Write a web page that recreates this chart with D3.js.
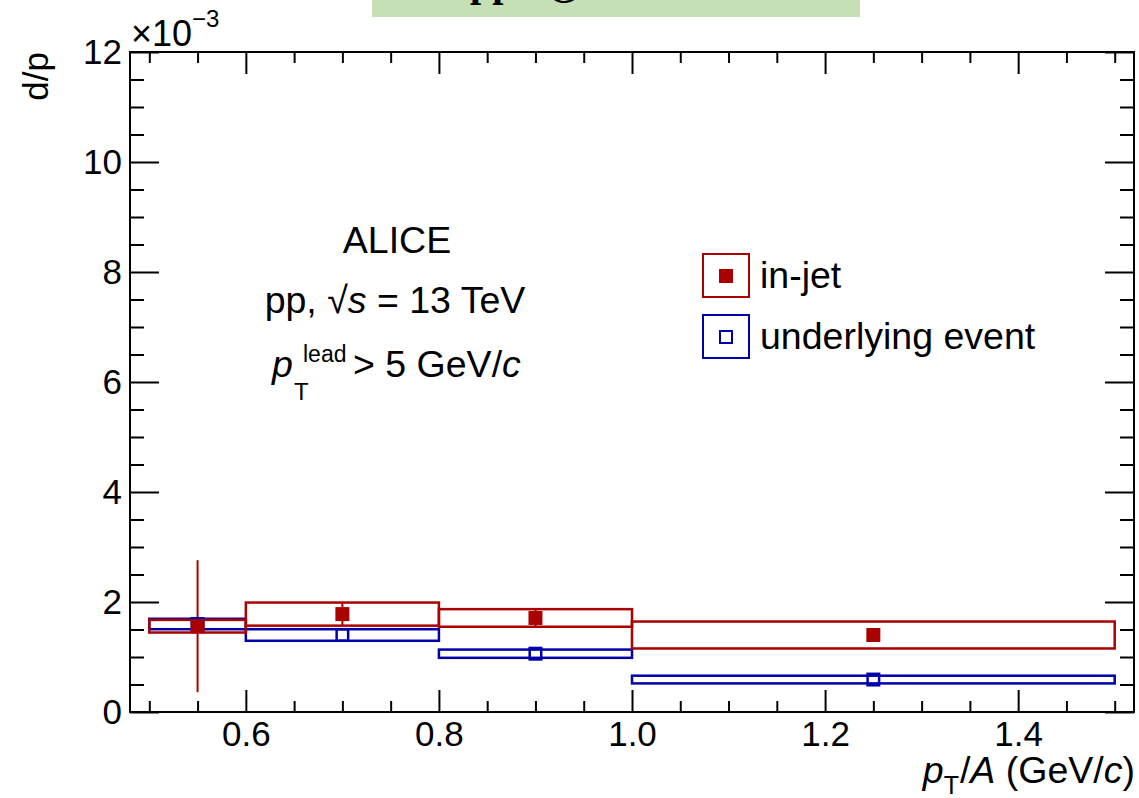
<!DOCTYPE html>
<html>
<head>
<meta charset="utf-8">
<script src="https://cdn.jsdelivr.net/npm/d3@7"></script>
<style>
  body { margin: 0; background: #fff; }
  svg { display: block; font-family: "Liberation Sans", Arial, sans-serif; }
</style>
</head>
<body>
<div id="chart"></div>
<script>
(function () {
    // pT/A bins (GeV/c)
    const binLow = [0.5, 0.6, 0.8, 1.0];
    const binHigh = [0.6, 0.8, 1.0, 1.5];
    const binCenter = [0.55, 0.7, 0.9, 1.25];

    // d/p ratio, in units of 10^-3
    const inJet = [1.56, 1.78, 1.71, 1.40];
    const inJetStat = [1.20, 0.21, 0.15, 0.10];
    const inJetSyst = [0.115, 0.21, 0.16, 0.245];

    const underlying = [1.60, 1.40, 1.06, 0.59];
    const underlyingSyst = [0.095, 0.105, 0.075, 0.07];

    // axis ticks and legend
    const xMajorTicks = [0.6, 0.8, 1.0, 1.2, 1.4];
    const yMajorTicks = [0, 2, 4, 6, 8, 10, 12];
    const legendNames = ["in-jet", "underlying event"];

    const W = 1139, H = 798;
    const frame = { left: 130, right: 1134, top: 52, bottom: 712 };
    const red = "#aa0000", blue = "#0000aa";
    const textSize = "37.5px";

    const svg = d3.select("#chart").append("svg")
        .attr("width", W).attr("height", H);

    svg.append("rect").attr("width", W).attr("height", H).attr("fill", "#fff");

    // green banner cut off at the top
    svg.append("rect")
        .attr("x", 372).attr("y", 0).attr("width", 488).attr("height", 17)
        .attr("fill", "#c5e0b4");
    const banner = svg.append("text")
        .attr("y", -4)
        .style("font-family", "'Liberation Serif', serif")
        .style("font-weight", "bold")
        .style("font-size", "40px");
    banner.append("tspan").attr("x", 470).text("pp");
    banner.append("tspan").attr("x", 547).text("@ 13 TeV");

    const x = d3.scaleLinear().domain([0.48, 1.52]).range([frame.left, frame.right]);
    const y = d3.scaleLinear().domain([0, 12]).range([frame.bottom, frame.top]);

    const xMinor = d3.range(0.5, 1.501, 0.05).filter(v => !xMajorTicks.some(t => Math.abs(t - v) < 1e-6));
    const yMinor = d3.range(0, 12.01, 0.5).filter(v => v % 2 !== 0);

    const axes = svg.append("g");

    function addAxis(axis, transform) {
        const g = axes.append("g").attr("transform", transform).call(axis);
        g.select(".domain").remove();
        g.selectAll("line").attr("stroke", "#000").attr("stroke-width", 2);
        g.selectAll("text").attr("fill", "#000").style("font-size", "35px")
            .style("font-family", "'Liberation Sans', Arial, sans-serif");
        return g;
    }

    // bottom axis
    addAxis(d3.axisBottom(x).tickValues(xMajorTicks).tickSize(-22).tickPadding(9)
        .tickFormat(d3.format(".1f")), `translate(0,${frame.bottom})`);
    addAxis(d3.axisBottom(x).tickValues(xMinor).tickSize(-11).tickFormat(""),
        `translate(0,${frame.bottom})`);
    // top axis
    addAxis(d3.axisTop(x).tickValues(xMajorTicks).tickSize(-22).tickFormat(""),
        `translate(0,${frame.top})`);
    addAxis(d3.axisTop(x).tickValues(xMinor).tickSize(-11).tickFormat(""),
        `translate(0,${frame.top})`);
    // left axis
    addAxis(d3.axisLeft(y).tickValues(yMajorTicks).tickSize(-29).tickPadding(8)
        .tickFormat(d3.format("d")), `translate(${frame.left},0)`);
    addAxis(d3.axisLeft(y).tickValues(yMinor).tickSize(-14).tickFormat(""),
        `translate(${frame.left},0)`);
    // right axis
    addAxis(d3.axisRight(y).tickValues(yMajorTicks).tickSize(-29).tickFormat(""),
        `translate(${frame.right},0)`);
    addAxis(d3.axisRight(y).tickValues(yMinor).tickSize(-14).tickFormat(""),
        `translate(${frame.right},0)`);

    // frame
    svg.append("rect")
        .attr("x", frame.left).attr("y", frame.top)
        .attr("width", frame.right - frame.left).attr("height", frame.bottom - frame.top)
        .attr("fill", "none").attr("stroke", "#000").attr("stroke-width", 2);

    // exponent label
    const expo = svg.append("text").attr("x", 131).attr("y", 46).style("font-size", "36px");
    expo.append("tspan").text("\u00d710");
    expo.append("tspan").attr("dy", -19).style("font-size", "24px").text("\u22123");

    // axis titles
    svg.append("text")
        .attr("transform", "translate(48,52) rotate(-90)")
        .attr("text-anchor", "end")
        .style("font-size", "35px")
        .text("d/p");

    const xt = svg.append("text").attr("x", 1135).attr("y", 783)
        .attr("text-anchor", "end").style("font-size", textSize);
    xt.append("tspan").style("font-style", "italic").text("p");
    xt.append("tspan").attr("dy", 11).style("font-size", "25px").text("T");
    xt.append("tspan").attr("dy", -11).attr("dx", 1).text("/");
    xt.append("tspan").style("font-style", "italic").text("A");
    xt.append("tspan").text(" (GeV/");
    xt.append("tspan").style("font-style", "italic").text("c");
    xt.append("tspan").text(")");

    // data
    const rows = binCenter.map((c, i) => ({
        lo: binLow[i], hi: binHigh[i], c: c,
        jet: inJet[i], jetStat: inJetStat[i], jetSyst: inJetSyst[i],
        ue: underlying[i], ueSyst: underlyingSyst[i]
    }));

    const plot = svg.append("g");
    const ms = 14;

    // systematic boxes
    plot.selectAll("rect.ue-syst").data(rows).enter().append("rect")
        .attr("class", "ue-syst")
        .attr("x", d => x(d.lo)).attr("width", d => x(d.hi) - x(d.lo))
        .attr("y", d => y(d.ue + d.ueSyst))
        .attr("height", d => y(d.ue - d.ueSyst) - y(d.ue + d.ueSyst))
        .attr("fill", "none").attr("stroke", blue).attr("stroke-width", 2.5);

    plot.selectAll("rect.jet-syst").data(rows).enter().append("rect")
        .attr("class", "jet-syst")
        .attr("x", d => x(d.lo)).attr("width", d => x(d.hi) - x(d.lo))
        .attr("y", d => y(d.jet + d.jetSyst))
        .attr("height", d => y(d.jet - d.jetSyst) - y(d.jet + d.jetSyst))
        .attr("fill", "none").attr("stroke", red).attr("stroke-width", 2.5);

    // statistical errors (in-jet)
    plot.selectAll("line.jet-stat").data(rows).enter().append("line")
        .attr("class", "jet-stat")
        .attr("x1", d => x(d.c)).attr("x2", d => x(d.c))
        .attr("y1", d => y(d.jet + d.jetStat)).attr("y2", d => y(d.jet - d.jetStat))
        .attr("stroke", red).attr("stroke-width", 2);

    // markers
    plot.selectAll("rect.ue-mark").data(rows).enter().append("rect")
        .attr("class", "ue-mark")
        .attr("x", d => x(d.c) - ms / 2 + 1.25).attr("y", d => y(d.ue) - ms / 2 + 1.25)
        .attr("width", ms - 2.5).attr("height", ms - 2.5)
        .attr("fill", "none").attr("stroke", blue).attr("stroke-width", 2.5);

    plot.selectAll("rect.jet-mark").data(rows).enter().append("rect")
        .attr("class", "jet-mark")
        .attr("x", d => x(d.c) - ms / 2).attr("y", d => y(d.jet) - ms / 2)
        .attr("width", ms).attr("height", ms)
        .attr("fill", red);

    // text block
    const info = svg.append("g").style("font-size", textSize);
    info.append("text").attr("x", 397).attr("y", 253).attr("text-anchor", "middle").text("ALICE");
    const pp = info.append("text").attr("x", 395).attr("y", 313).attr("text-anchor", "middle");
    pp.append("tspan").text("pp, \u221a");
    pp.append("tspan").style("font-style", "italic").text("s");
    pp.append("tspan").text(" = 13 TeV");

    const lead = info.append("g");
    lead.append("text").attr("x", 272).attr("y", 377).style("font-style", "italic").text("p");
    lead.append("text").attr("x", 303).attr("y", 362).style("font-size", "23px").text("lead");
    lead.append("text").attr("x", 294).attr("y", 400).style("font-size", "24px").text("T");
    const cut = lead.append("text").attr("x", 353).attr("y", 377);
    cut.append("tspan").text("> 5 GeV/");
    cut.append("tspan").style("font-style", "italic").text("c");

    // legend
    const legend = svg.append("g").attr("transform", "translate(703,254)");
    const items = legend.selectAll("g").data(legendNames).enter().append("g")
        .attr("transform", (d, i) => `translate(0,${i * 61})`);
    items.append("rect")
        .attr("width", 46).attr("height", 43)
        .attr("fill", "none")
        .attr("stroke", (d, i) => i === 0 ? red : blue).attr("stroke-width", 2);
    items.append("rect")
        .attr("x", (d, i) => i === 0 ? 16 : 17).attr("y", (d, i) => i === 0 ? 15 : 16)
        .attr("width", (d, i) => i === 0 ? 14 : 12).attr("height", (d, i) => i === 0 ? 14 : 12)
        .attr("fill", (d, i) => i === 0 ? red : "none")
        .attr("stroke", (d, i) => i === 0 ? "none" : blue).attr("stroke-width", 2);
    items.append("text")
        .attr("x", 57).attr("y", 34)
        .style("font-size", textSize)
        .text(d => d);
})();
</script>
</body>
</html>
